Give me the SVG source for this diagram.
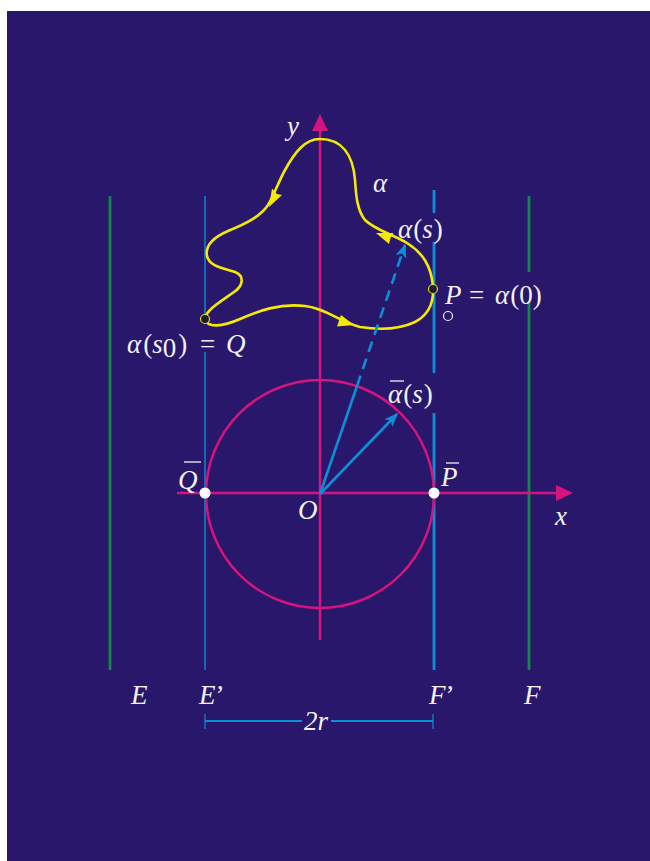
<svg xmlns="http://www.w3.org/2000/svg" width="650" height="861" viewBox="0 0 650 861">
<style>
.t{font-family:"Liberation Serif","DejaVu Serif",serif;font-style:italic;font-size:27px;fill:#f2f2f2}
.u{font-family:"Liberation Serif","DejaVu Serif",serif;font-style:normal;font-size:27px;fill:#f2f2f2}
.g{stroke:#11874f;stroke-width:2.8;fill:none}
.b{stroke:#0c8fd6;fill:none}
.m{stroke:#d5147d;stroke-width:2.5;fill:none}
.bar{stroke:#f2f2f2;stroke-width:1.3}
</style>
<defs>
<marker id="ab" viewBox="0 0 10 10" refX="9" refY="5" markerWidth="14" markerHeight="14" markerUnits="userSpaceOnUse" orient="auto"><path d="M0,1 L10,5 L0,9 L2.5,5 z" fill="#0c8fd6"/></marker>
</defs>
<rect x="7" y="11" width="643" height="850" fill="#29176b"/>
<g id="lines-EF">
<line class="g" x1="110" y1="196" x2="110" y2="670"/>
<line class="g" x1="529" y1="196" x2="529" y2="272"/>
<line class="g" x1="529" y1="302" x2="529" y2="670"/>
<line class="b" stroke-width="1.4" x1="205" y1="196" x2="205" y2="323"/>
<line class="b" stroke-width="1.4" x1="205" y1="352" x2="205" y2="670"/>
<line class="b" stroke-width="2.8" x1="434" y1="190" x2="434" y2="213"/>
<line class="b" stroke-width="2.8" x1="434" y1="242" x2="434" y2="373"/>
<line class="b" stroke-width="2.8" x1="434" y1="413" x2="434" y2="670"/>
</g>
<g id="axes">
<line class="m" x1="320" y1="640" x2="320" y2="130"/>
<path d="M320,114 L328,131 L312,131 z" fill="#d5147d"/>
<line class="m" x1="177" y1="493" x2="556" y2="493"/>
<path d="M573,493 L556,485 L556,501 z" fill="#d5147d"/>
<circle id="circle" class="m" cx="320" cy="494" r="114"/>
</g>
<g id="curve">
<path d="M320,139 C305,139 295,152 285,170 C278,183 274,195 268,205 C260,217 245,224 228,231 C212,238 205,246 207,256 C209,266 222,268 235,272 C245,276 243,286 234,292 C220,302 206,310 205,319 C207,328 222,327 240,319 C258,311 280,303 305,306 C325,308 340,322 360,327 C380,330 400,329 415,322 C430,314 434,300 433,286 C431,266 423,253 407,243 C392,234 375,230 365,220 C357,210 356,195 355,180 C353,155 342,139 320,139 z" fill="none" stroke="#f5ea00" stroke-width="2.6"/>
<path d="M269,207 L282,195 L277,194 L272,188.5 z" fill="#f5ea00"/>
<path d="M376,233 L393.5,233 L390.5,238 L389,244 z" fill="#f5ea00"/>
<path d="M354,325 L341,315 L339,320.5 L337,326.5 z" fill="#f5ea00"/>
<circle cx="205" cy="319" r="4.5" fill="#1c1a30" stroke="#e8e000" stroke-width="1.2"/>
<circle cx="433" cy="289" r="4.5" fill="#1c1a30" stroke="#e8e000" stroke-width="1.2"/>
<circle cx="448" cy="316" r="4.5" fill="none" stroke="#f2f2f2" stroke-width="1.2"/>
</g>
<g id="vectors">
<line class="b" stroke-width="2.6" x1="320" y1="494" x2="357" y2="386"/>
<line class="b" stroke-width="2.6" stroke-dasharray="11,7" x1="357" y1="386" x2="405" y2="245" marker-end="url(#ab)"/>
<line class="b" stroke-width="2.6" x1="320" y1="494" x2="397" y2="414" marker-end="url(#ab)"/>
<circle cx="205" cy="493" r="5.5" fill="#ffffff"/>
<circle cx="434" cy="493" r="5.5" fill="#ffffff"/>
</g>
<g id="dimension">
<line class="b" stroke-width="2.2" x1="205" y1="721" x2="302" y2="721"/>
<line class="b" stroke-width="2.2" x1="331" y1="721" x2="433" y2="721"/>
<line class="b" stroke-width="1.2" x1="205" y1="714" x2="205" y2="729"/>
<line class="b" stroke-width="1.2" x1="433" y1="714" x2="433" y2="729"/>
</g>
<g id="labels">
<text class="t" x="287" y="135">y</text>
<text class="t" x="373" y="192">α</text>
<text class="t" x="398" y="238">α<tspan class="u" dx="1">(</tspan>s<tspan class="u" dx="1">)</tspan></text>
<text class="t" x="445" y="304">P</text>
<text class="u" x="469" y="304">=</text>
<text class="t" x="495" y="304">α<tspan class="u" dx="1">(0)</tspan></text>
<text class="t" x="127" y="353">α<tspan class="u" dx="2">(</tspan>s<tspan class="u" font-size="19" dy="4">0</tspan><tspan class="u" dx="2" dy="-4">)</tspan></text>
<text class="u" x="200" y="353">=</text>
<text class="t" x="226" y="353">Q</text>
<text class="t" x="388" y="403">α<tspan class="u" dx="1">(</tspan>s<tspan class="u" dx="1">)</tspan></text>
<line class="bar" x1="390" y1="381" x2="404" y2="381"/>
<text class="t" x="178" y="489">Q</text>
<line class="bar" x1="184" y1="462" x2="201" y2="462"/>
<text class="t" x="441" y="486">P</text>
<line class="bar" x1="446" y1="463" x2="459" y2="463"/>
<text class="t" x="298" y="519">O</text>
<text class="t" x="555" y="525">x</text>
<text class="t" x="131" y="704">E</text>
<text class="t" x="199" y="704">E<tspan class="u">’</tspan></text>
<text class="t" x="429" y="704">F<tspan class="u">’</tspan></text>
<text class="t" x="524" y="704">F</text>
<text class="t" x="304" y="730">2r</text>
</g>
</svg>
